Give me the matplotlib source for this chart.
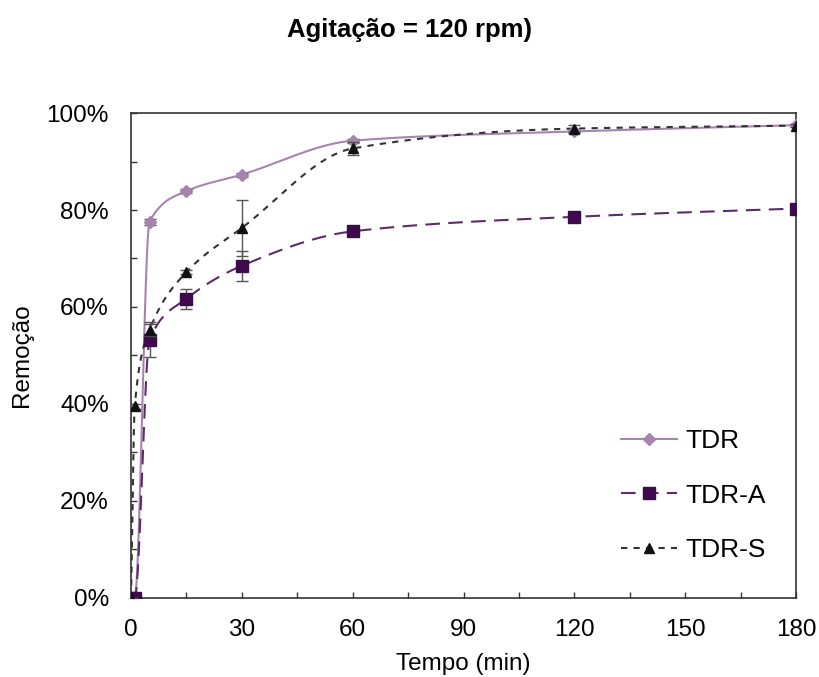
import numpy as np
import matplotlib.pyplot as plt
from matplotlib.ticker import MultipleLocator, PercentFormatter

plt.rcParams['font.family'] = ['Liberation Sans', 'DejaVu Sans']

# tempos (min)
tempo = [0, 1, 5, 15, 30, 60, 120, 180]

# remoção (%)
tdr = [0, 0, 77.6, 83.9, 87.3, 94.3, 96.2, 97.5]
tdr_err = [0, 0, 0.6, 0.4, 0.4, 0.4, 0.4, 0.3]
tdr_a = [0, 0, 53.2, 61.7, 68.5, 75.6, 78.6, 80.3]
tdr_a_err = [0, 0, 3.6, 2.1, 3.1, 0, 0, 0]
tdr_s = [0, 39.5, 55.2, 67.2, 76.3, 92.7, 96.8, 97.4]
tdr_s_err = [0, 0.5, 1.2, 0.5, 5.7, 1.4, 0.8, 0.3]


def suavizar(x, y, n=60):
    # interpolação cúbica monótona (fritsch-carlson), sem overshoot
    x = np.asarray(x, float)
    y = np.asarray(y, float)
    h = np.diff(x)
    d = np.diff(y) / h
    m = np.zeros_like(y)
    m[0] = d[0]
    m[-1] = d[-1]
    for i in range(1, len(x) - 1):
        if d[i - 1] * d[i] <= 0:
            m[i] = 0
        else:
            w1 = 2 * h[i] + h[i - 1]
            w2 = h[i] + 2 * h[i - 1]
            m[i] = (w1 + w2) / (w1 / d[i - 1] + w2 / d[i])
    px, py = [], []
    for i in range(len(x) - 1):
        t = np.linspace(0, 1, n)
        h00 = 2 * t ** 3 - 3 * t ** 2 + 1
        h10 = t ** 3 - 2 * t ** 2 + t
        h01 = -2 * t ** 3 + 3 * t ** 2
        h11 = t ** 3 - t ** 2
        px.extend(x[i] + t * h[i])
        py.extend(h00 * y[i] + h10 * h[i] * m[i] + h01 * y[i + 1] + h11 * h[i] * m[i + 1])
    return np.array(px), np.array(py)


fig = plt.figure(figsize=(8.19, 6.77), dpi=100)
ax = fig.add_axes([0.160, 0.117, 0.812, 0.716])

c_tdr = '#A783B0'
c_a = '#3E0A4B'
c_a_line = '#5B2C66'
c_s = '#111111'

# linhas suavizadas
sx, sy = suavizar(tempo, tdr)
ax.plot(sx, sy, color=c_tdr, lw=1.5, zorder=2)
sx, sy = suavizar(tempo, tdr_a)
ax.plot(sx, sy, color=c_a_line, lw=1.5, dashes=(7, 4), zorder=2)
sx, sy = suavizar(tempo, tdr_s)
ax.plot(sx, sy, color='#333333', lw=1.5, dashes=(3, 3), zorder=2)

# marcadores + barras de erro
ax.errorbar(tempo, tdr, yerr=tdr_err, fmt='D', color=c_tdr, ms=6, ecolor='#555555',
            elinewidth=1, capsize=4, zorder=3)
ax.errorbar(tempo, tdr_a, yerr=tdr_a_err, fmt='s', color=c_a, ms=9, ecolor='#555555',
            elinewidth=1, capsize=4, zorder=3)
ax.errorbar(tempo, tdr_s, yerr=tdr_s_err, fmt='^', color=c_s, ms=7, ecolor='#555555',
            elinewidth=1, capsize=4, zorder=4)

# legenda
h1, = ax.plot([], [], color=c_tdr, lw=1.5, marker='D', ms=6)
h2, = ax.plot([], [], color=c_a_line, lw=1.5, dashes=(7, 4), marker='s', ms=9, mfc=c_a, mec=c_a)
h3, = ax.plot([], [], color='#333333', lw=1.5, dashes=(3, 3), marker='^', ms=7, mfc=c_s, mec=c_s)
leg = ax.legend([h1, h2, h3], ['TDR', 'TDR-A', 'TDR-S'], loc='lower right',
                bbox_to_anchor=(0.99, 0.025), frameon=False, fontsize=19,
                handlelength=2.15, labelspacing=1.15, handletextpad=0.3)

ax.set_xlim(0, 180)
ax.set_ylim(0, 100)
ax.xaxis.set_major_locator(MultipleLocator(30))
ax.xaxis.set_minor_locator(MultipleLocator(15))
ax.yaxis.set_major_locator(MultipleLocator(20))
ax.yaxis.set_minor_locator(MultipleLocator(10))
ax.yaxis.set_major_formatter(PercentFormatter(decimals=0))
ax.tick_params(which='both', direction='in', length=4, width=1, labelsize=17.5, color='#333333')
ax.tick_params(axis='x', pad=15)
ax.tick_params(axis='y', pad=16)
for s in ax.spines.values():
    s.set_color('#333333')
    s.set_linewidth(1.2)

ax.set_xlabel('Tempo (min)', fontsize=17.5, labelpad=9)
ax.set_ylabel('Remoção', fontsize=17.5, labelpad=10)
fig.text(0.5, 0.955, 'Agitação = 120 rpm)', ha='center', va='center',
         fontsize=18.5, fontweight='bold')

fig.savefig('out.png', dpi=100)
